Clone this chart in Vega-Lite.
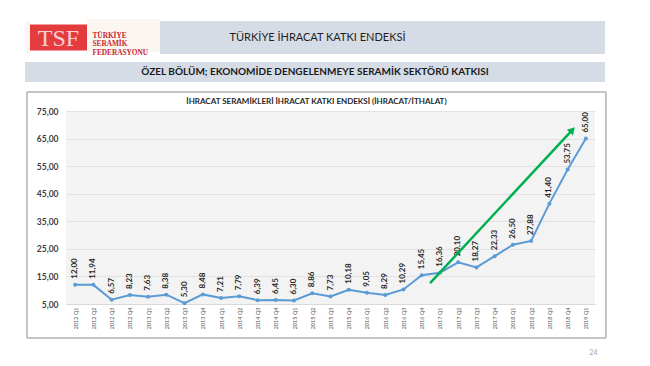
{
  "$schema": "https://vega.github.io/schema/vega-lite/v6.json",
  "padding": {"left": 25, "top": 19, "right": 0, "bottom": 0},
  "background": "white",
  "config": {
    "font": "Lato",
    "view": {"stroke": null},
    "locale": {"number": {"decimal": ",", "thousands": ".", "grouping": [3], "currency": ["", " TL"]}}
  },
  "title": {"text": "24", "orient": "bottom", "anchor": "end", "frame": "bounds", "fontSize": 7, "fontWeight": "normal", "color": "#a6a6a6", "offset": 11, "dx": -9},
  "datasets": {
    "kei": [
      {"q": "2012 Q1", "v": 12.00}, {"q": "2012 Q2", "v": 11.94}, {"q": "2012 Q3", "v": 6.57}, {"q": "2012 Q4", "v": 8.23},
      {"q": "2013 Q1", "v": 7.63}, {"q": "2013 Q2", "v": 8.38}, {"q": "2013 Q3", "v": 5.30}, {"q": "2013 Q4", "v": 8.48},
      {"q": "2014 Q1", "v": 7.21}, {"q": "2014 Q2", "v": 7.79}, {"q": "2014 Q3", "v": 6.39}, {"q": "2014 Q4", "v": 6.45},
      {"q": "2015 Q1", "v": 6.30}, {"q": "2015 Q2", "v": 8.86}, {"q": "2015 Q3", "v": 7.73}, {"q": "2015 Q4", "v": 10.18},
      {"q": "2016 Q1", "v": 9.05}, {"q": "2016 Q2", "v": 8.29}, {"q": "2016 Q3", "v": 10.29}, {"q": "2016 Q4", "v": 15.45},
      {"q": "2017 Q1", "v": 16.36}, {"q": "2017 Q2", "v": 20.10}, {"q": "2017 Q3", "v": 18.27}, {"q": "2017 Q4", "v": 22.33},
      {"q": "2018 Q1", "v": 26.50}, {"q": "2018 Q2", "v": 27.88}, {"q": "2018 Q3", "v": 41.40}, {"q": "2018 Q4", "v": 53.75},
      {"q": "2019 Q1", "v": 65.00}
    ]
  },
  "spacing": 9,
  "vconcat": [
    {
      "spacing": 6,
      "vconcat": [
        {
          "spacing": 0,
          "center": true,
          "hconcat": [
            {"width": 5, "height": 33, "view": {"fill": "#fbf6f1", "stroke": null}, "data": {"values": [{}]}, "mark": {"type": "text", "text": ""}},
            {"width": 57, "height": 26, "view": {"fill": "#e43b3f", "stroke": null}, "data": {"values": [{}]},
             "mark": {"type": "text", "text": "TSF", "font": "Liberation Serif", "fontSize": 24, "color": "#ffffff", "opacity": 0.75, "dy": 1}},
            {"width": 73, "height": 33, "view": {"fill": "#fbf6f1", "stroke": null}, "data": {"values": [{}]},
             "mark": {"type": "text", "text": ["TÜRKİYE", "SERAMİK", "FEDERASYONU"], "align": "left", "dx": -31, "font": "Liberation Serif", "fontWeight": "bold", "fontSize": 7.3, "lineHeight": 8.5, "color": "#c8282e"}},
            {"width": 445, "height": 33, "view": {"fill": "#d6dce5", "stroke": null}, "data": {"values": [{}]},
             "mark": {"type": "text", "text": "TÜRKİYE İHRACAT KATKI ENDEKSİ", "fontSize": 11, "dx": -65, "color": "#1f1f1f"}}
          ]
        },
        {"width": 580, "height": 20, "view": {"fill": "#d6dce5", "stroke": null}, "data": {"values": [{}]},
         "mark": {"type": "text", "text": "ÖZEL BÖLÜM; EKONOMİDE DENGELENMEYE SERAMİK SEKTÖRÜ KATKISI", "fontWeight": "bold", "fontSize": 10, "color": "#1a1a1a"}}
      ]
    },
    {
      "spacing": 0,
      "hconcat": [
        {"width": 1, "height": 1, "data": {"values": [{}]}, "mark": {"type": "text", "text": ""}},
        {
          "width": 529,
          "height": 193,
          "view": {"fill": "#f3f3f3", "stroke": null},
          "title": {"text": "İHRACAT SERAMİKLERİ İHRACAT KATKI ENDEKSİ (İHRACAT/İTHALAT)", "fontSize": 8, "fontWeight": "bold", "color": "#262626", "frame": "bounds", "anchor": "middle", "offset": -14},
          "resolve": {"scale": {"x": "independent", "y": "independent"}},
          "layer": [
            {
              "data": {"name": "kei"},
              "encoding": {
                "x": {"field": "q", "type": "ordinal", "sort": null, "scale": {"type": "point", "padding": 0.5},
                      "axis": {"title": null, "labelAngle": 270, "labelFontSize": 5.5, "labelColor": "#595959", "labelPadding": 3, "ticks": false, "domain": true, "domainColor": "#d9d9d9"}},
                "y": {"field": "v", "type": "quantitative", "scale": {"domain": [5, 75], "nice": false, "zero": false},
                      "axis": {"title": null, "values": [5, 15, 25, 35, 45, 55, 65, 75], "format": ".2f", "labelFontSize": 8.5, "labelFontWeight": "bold", "labelColor": "#404040", "labelPadding": 8, "ticks": false, "domain": false, "gridColor": "#e2e2e2"}}
              },
              "layer": [
                {"mark": {"type": "line", "color": "#5b9bd5", "strokeWidth": 2}},
                {"mark": {"type": "point", "filled": true, "size": 16, "color": "#5b9bd5", "opacity": 1}},
                {"mark": {"type": "text", "angle": 270, "align": "left", "baseline": "middle", "dx": 6, "fontWeight": "bold", "fontSize": 8, "color": "#262626"},
                 "encoding": {"text": {"field": "v", "type": "quantitative", "format": ".2f"}}}
              ]
            },
            {
              "data": {"values": [{}]},
              "mark": {"type": "rect", "fillOpacity": 0, "stroke": "#8c8c8c", "strokeWidth": 1},
              "encoding": {
                "x": {"datum": -2.14, "type": "quantitative", "scale": {"domain": [0, 29], "nice": false, "zero": false}, "axis": null},
                "x2": {"datum": 29.6},
                "y": {"datum": 81.89, "type": "quantitative", "scale": {"domain": [5, 75], "nice": false, "zero": false}, "axis": null},
                "y2": {"datum": -7.33}
              }
            },
            {
              "data": {"values": [{}]},
              "mark": {"type": "rule", "color": "#00b050", "strokeWidth": 2.5},
              "encoding": {
                "x": {"datum": 19.96, "type": "quantitative", "scale": {"domain": [0, 29], "nice": false, "zero": false}, "axis": null},
                "x2": {"datum": 27.76},
                "y": {"datum": 12.6, "type": "quantitative", "scale": {"domain": [5, 75], "nice": false, "zero": false}, "axis": null},
                "y2": {"datum": 68.15}
              }
            },
            {
              "data": {"values": [{}]},
              "mark": {"type": "point", "shape": "triangle-up", "filled": true, "size": 70, "angle": 43, "color": "#00b050", "opacity": 1},
              "encoding": {
                "x": {"datum": 27.76, "type": "quantitative", "scale": {"domain": [0, 29], "nice": false, "zero": false}, "axis": null},
                "y": {"datum": 68.15, "type": "quantitative", "scale": {"domain": [5, 75], "nice": false, "zero": false}, "axis": null}
              }
            }
          ]
        }
      ]
    }
  ]
}
